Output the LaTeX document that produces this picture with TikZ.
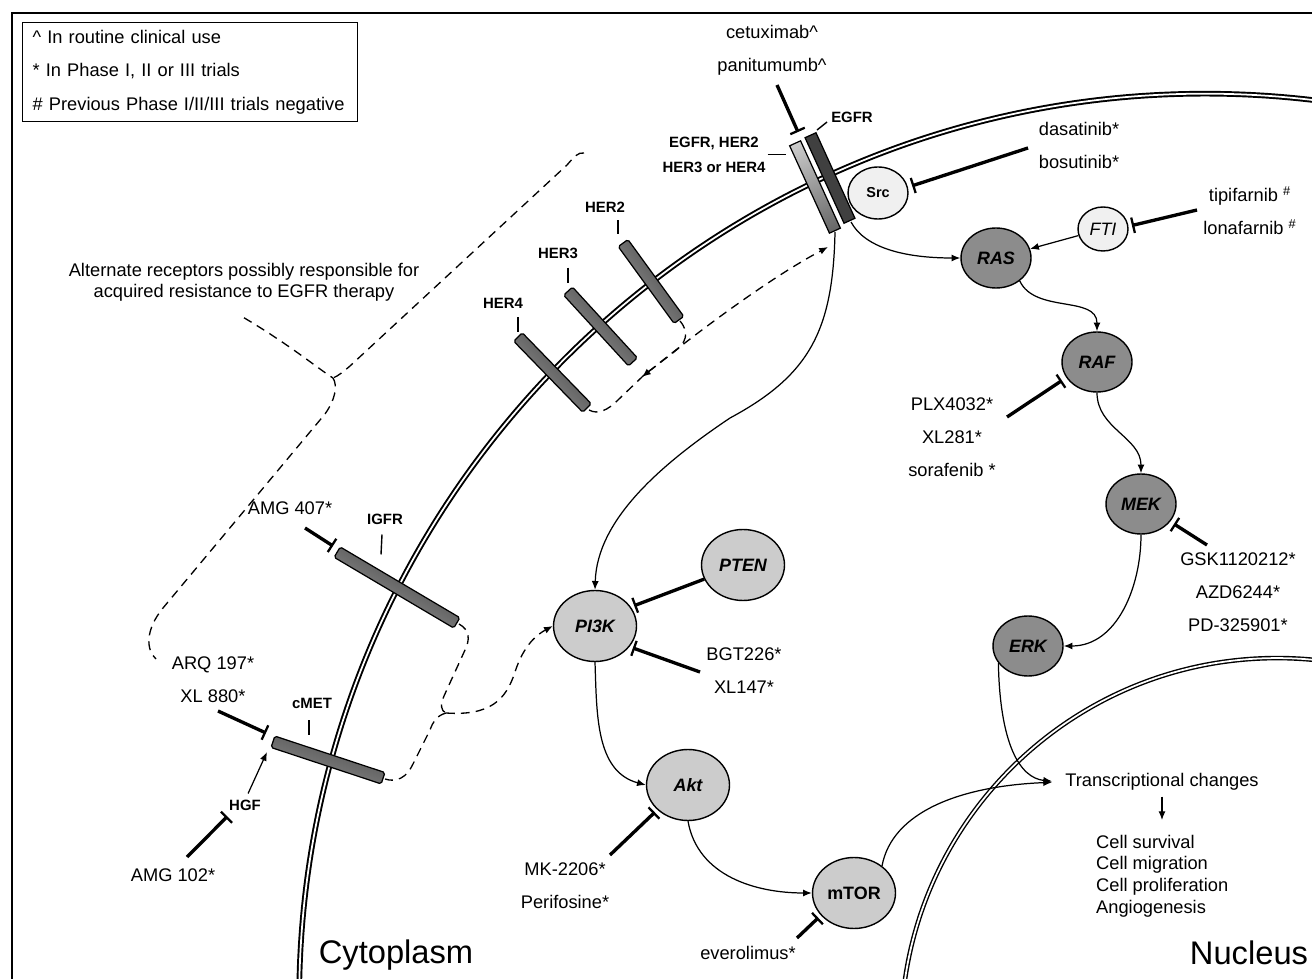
\documentclass[tikz,border=0pt]{standalone}
\usepackage{fontspec}
\setmainfont{Liberation Sans}
\usetikzlibrary{shapes.geometric,arrows.meta}

% receptor bar: [style] centre x, centre y, angle, length
\newcommand{\rcptbar}[5][barshade]{%
  \begin{scope}[transform canvas={shift={(#2,#3)},rotate=#4}]
    \draw[#1] (-#5/2,-6) rectangle (#5/2,6);
  \end{scope}}

\begin{document}
\begin{tikzpicture}[x=0.02cm, y=-0.02cm,
    kinase/.style ={ellipse, draw, line width=0.8pt, fill=black!45, inner sep=0pt,
                    minimum width=1.4cm, minimum height=1.2cm,
                    font=\fontsize{10.2}{12}\selectfont\bfseries\itshape},
    lipid/.style ={ellipse, draw, line width=0.8pt, fill=black!20, inner sep=0pt,
                    minimum width=1.66cm, minimum height=1.42cm,
                    font=\fontsize{10.2}{12}\selectfont\bfseries\itshape},
    adaptor/.style ={ellipse, draw, line width=0.8pt, fill=black!6, inner sep=0pt},
    drug/.style ={align=center, font=\fontsize{10.4}{18.8}\selectfont},
    rcpt/.style ={align=center, font=\fontsize{8.5}{14.2}\selectfont\bfseries},
    tick/.style ={line width=0.8pt},
    act/.style ={-{Latex[length=5pt,width=4pt]}, line width=0.7pt},
    inhib/.style ={-{Bar[width=9pt,line width=1.3pt]}, line width=1.9pt},
    brace/.style ={dash pattern=on 5pt off 3.5pt, line width=0.75pt},
    membrane/.style ={line width=1.1pt, double=white, double distance=1pt},
    barshade/.style ={line width=0.7pt, rounded corners=1pt,
                    top color=black!60, middle color=black!28, bottom color=black!55},
    egfrlight/.style ={line width=0.7pt, left color=black!20, right color=black!60},
    egfrdark/.style ={line width=0.7pt, fill=black!75}]

   \useasboundingbox (0,0) rectangle (1312,979);
   \clip (0,0) rectangle (1312,979);
   \draw[line width=1.1pt] (12,13) rectangle (1340,1010);

   % cell membrane and nucleus
   \draw[membrane] (1205,999.5) circle[radius=18.12cm];
   \draw[membrane, line width=0.8pt] (1277,1034) circle[radius=7.52cm];

   % receptors
   \rcptbar{651}{281.5}{-54}{95}
   \rcptbar{600.5}{326.5}{-47.5}{96}
   \rcptbar{552.5}{372.5}{-45.8}{99}
   \rcptbar{397}{587.5}{-30.6}{139}
   \rcptbar{328}{760}{-18.3}{116}
   \rcptbar[egfrlight]{815}{187}{-65.5}{96}
   \rcptbar[egfrdark]{830}{178}{-65.5}{94}

   \coordinate (her2-b) at (680,321);
   \coordinate (her4-b) at (589,410);
   \coordinate (igfr-t) at (333,546);
   \coordinate (igfr-b) at (459,624);
   \coordinate (met-t) at (266,733);
   \coordinate (met-h) at (267,752);
   \coordinate (met-b) at (385,779);
   \coordinate (egfr-t) at (798,132);
   \coordinate (egfr-b) at (835,232);
   \coordinate (egfr-c) at (851,222);
   \coordinate (egfr-m) at (828,247);
   \coordinate (cusp1) at (333,378);
   \coordinate (cusp2) at (446,713);
   \coordinate (cusp3) at (642,377);

   % signalling proteins
   \node[adaptor, minimum width=1.2cm, minimum height=1.04cm,
         font=\fontsize{8.2}{10}\selectfont\bfseries] (src) at (878,193) {Src};
   \node[adaptor, minimum width=1.0cm, minimum height=0.88cm,
         font=\fontsize{10.2}{12}\selectfont\itshape] (fti) at (1103,229) {FTI};
   \node[kinase] (ras) at (996,258) {RAS};
   \node[kinase] (raf) at (1097,362) {RAF};
   \node[kinase] (mek) at (1141,504) {MEK};
   \node[kinase] (erk) at (1028,646) {ERK};
   \node[lipid] (pten) at (743,565) {PTEN};
   \node[lipid] (pi3k) at (595,626) {PI3K};
   \node[lipid] (akt) at (688,785) {Akt};
   \node[lipid, font=\fontsize{10.2}{12}\selectfont\bfseries] (mtor) at (854,893) {mTOR};

   % labels
   \node[draw, line width=0.8pt, anchor=north west, minimum width=6.7cm, minimum height=1.98cm,
         text width=6.3cm, inner xsep=0.2cm, align=left,
         font=\fontsize{10.4}{19}\selectfont] (legend) at (22,22)
     {\textasciicircum{} In routine clinical use\\{}* In Phase I, II or III trials\\\# Previous Phase I/II/III trials negative};
   \node[drug] (cetux) at (772,50) {cetuximab\textasciicircum\\panitumumb\textasciicircum};
   \node[rcpt] (egfrpair) at (714,154.5) {EGFR, HER2\\HER3 or HER4};
   \node[rcpt] (egfrlab) at (852,117) {EGFR};
   \node[rcpt] (her2lab) at (605,207) {HER2};
   \node[rcpt] (her3lab) at (558,253) {HER3};
   \node[rcpt] (her4lab) at (503,303) {HER4};
   \node[rcpt] (igfrlab) at (385,519) {IGFR};
   \node[rcpt] (metlab) at (312,703) {cMET};
   \node[rcpt] (hgf) at (245,805) {HGF};
   \node[align=center, font=\fontsize{10.4}{12}\selectfont] (alt) at (244,282.5)
     {Alternate receptors possibly responsible for\\acquired resistance to EGFR therapy};
   \node[drug] (amg407) at (290,508) {AMG 407*};
   \node[drug] (arq) at (213,680) {ARQ 197*\\XL 880*};
   \node[drug] (amg102) at (173,875) {AMG 102*};
   \node[drug] (dasa) at (1079,145) {dasatinib*\\bosutinib*};
   \node[drug] (tipi) at (1250,211) {tipifarnib \textsuperscript{\#}\\lonafarnib \textsuperscript{\#}};
   \node[drug] (plx) at (952,437) {PLX4032*\\XL281*\\sorafenib *};
   \node[drug] (gsk) at (1238,592.5) {GSK1120212*\\AZD6244*\\PD-325901*};
   \node[drug] (bgt) at (744,670.5) {BGT226*\\XL147*};
   \node[drug] (mk) at (565,885.5) {MK-2206*\\Perifosine*};
   \node[drug] (evero) at (748,953) {everolimus*};
   \node[font=\fontsize{10.4}{12}\selectfont] (trans) at (1162,782) {Transcriptional changes};
   \node[anchor=west, align=left, font=\fontsize{10.4}{12.3}\selectfont] (outc) at (1090,876)
     {Cell survival\\Cell migration\\Cell proliferation\\Angiogenesis};
   \node[font=\fontsize{18.6}{22}\selectfont] (cyto) at (396,955) {Cytoplasm};
   \node[font=\fontsize{18.6}{22}\selectfont] (nuc) at (1249,953) {Nucleus};

   % free ends of the drug lines
   \coordinate (cetux-s) at (777,85);
   \coordinate (dasa-s) at (1028,148);
   \coordinate (tipi-s) at (1197,210);
   \coordinate (plx-s) at (1007,417);
   \coordinate (gsk-s) at (1207,545);
   \coordinate (bgt-s) at (700,672);
   \coordinate (mk-s) at (610,855);
   \coordinate (evero-s) at (797,938);
   \coordinate (amg407-s) at (305,528);
   \coordinate (arq-s) at (218,711);
   \coordinate (amg102-s) at (187,857);

   % leader ticks
   \draw[tick] (egfrpair.east) ++(-4,0) -- ++(18,0);
   \draw[tick] (egfrlab.west) ++(-8,13) -- ++(10,-8);
   \draw[tick] (her2lab.south) ++(13,2) -- ++(0,14);
   \draw[tick] (her3lab.south) ++(10,3) -- ++(0,15);
   \draw[tick] (her4lab.south) ++(15,3) -- ++(0,15);
   \draw[tick] (igfrlab.south) ++(-3,4) -- ++(-1,20);
   \draw[tick] (metlab.south) ++(-3,6) -- ++(0,15);

   % drugs
   \draw[inhib] (cetux-s) -- (egfr-t);
   \draw[inhib, shorten >=2.5pt] (dasa-s) -- (src.11);
   \draw[inhib, shorten >=2pt] (tipi-s) -- (fti.6);
   \draw[inhib, shorten >=3pt] (plx-s) -- (raf.207);
   \draw[inhib, shorten >=2.5pt] (gsk-s) -- (mek.329);
   \draw[inhib, shorten >=2pt] (pten.200) -- (pi3k.28);
   \draw[inhib, shorten >=2pt] (bgt-s) -- (pi3k.329);
   \draw[inhib, shorten >=2pt] (mk-s) -- (akt.219);
   \draw[inhib, shorten >=2pt] (evero-s) -- (mtor.214);
   \draw[inhib] (amg407-s) -- (igfr-t);
   \draw[inhib] (arq-s) -- (met-t);
   \draw[inhib] (amg102-s) -- (hgf.213);
   \draw[act] (hgf.75) -- (met-h);

   % pathways
   \draw[act] (egfr-c) .. controls (865,248) and (905,258) .. (ras.west);
   \draw[act] (egfr-b) .. controls (833,330) and (810,375) .. (730,418)
                       .. controls (660,465) and (597,520) .. (pi3k.north);
   \draw[act] (fti.195) -- (ras.15);
   \draw[act] (ras.316) to[out=-65, in=90] (raf.north);
   \draw[act] (raf.south) to[out=-90, in=90] (mek.north);
   \draw[act] (mek.south) to[out=-90, in=0] (erk.east);
   \draw[act] (pi3k.south) to[out=-88, in=165] (akt.west);
   \draw[act] (akt.south) to[out=-80, in=180] (mtor.west);
   \draw[act, shorten >=4pt] (erk.210) .. controls (1000,745) and (1020,778) .. (trans.west);
   \draw[act, shorten >=4pt] (mtor.44) .. controls (892,812) and (960,786) .. (trans.west);
   \draw[act, shorten >=5pt] (trans.south) -- (trans.south |- outc.north);

   % alternate receptors
   \draw[brace] (584,153) .. controls (578,152) and (574,157) .. (567,165) -- (350,366)
                .. controls (343,372) and (338,376) .. (cusp1);
   \draw[brace] (alt.south) ++(0,10) .. controls (290,345) and (320,370) .. (cusp1);
   \draw[brace] (cusp1) .. controls (338,386) and (335,400) .. (325,414) -- (163,608)
                .. controls (145,630) and (146,650) .. (156,659);
   \draw[brace] (igfr-b) .. controls (470,630) and (470,640) .. (465,650) -- (444,696)
                .. controls (440,705) and (441,711) .. (cusp2);
   \draw[brace] (cusp2) .. controls (436,716) and (433,722) .. (430,730) -- (413,764)
                .. controls (407,777) and (397,783) .. (met-b);
   \draw[brace, -{Latex[length=5pt,width=4pt]}] (cusp2) .. controls (490,716) and (506,700) .. (515,672)
                .. controls (524,644) and (538,634) .. (pi3k.west);
   \draw[brace] (her2-b) .. controls (690,333) and (686,343) .. (674,352) -- (652,369)
                .. controls (646,373) .. (cusp3);
   \draw[brace] (her4-b) .. controls (598,415) and (608,410) .. (618,400) -- (cusp3);
   \draw[brace, {Latex[length=5pt,width=4pt]}-{Latex[length=5pt,width=4pt]}]
                (cusp3) .. controls (700,330) and (770,278) .. (egfr-m);
\end{tikzpicture}
\end{document}
